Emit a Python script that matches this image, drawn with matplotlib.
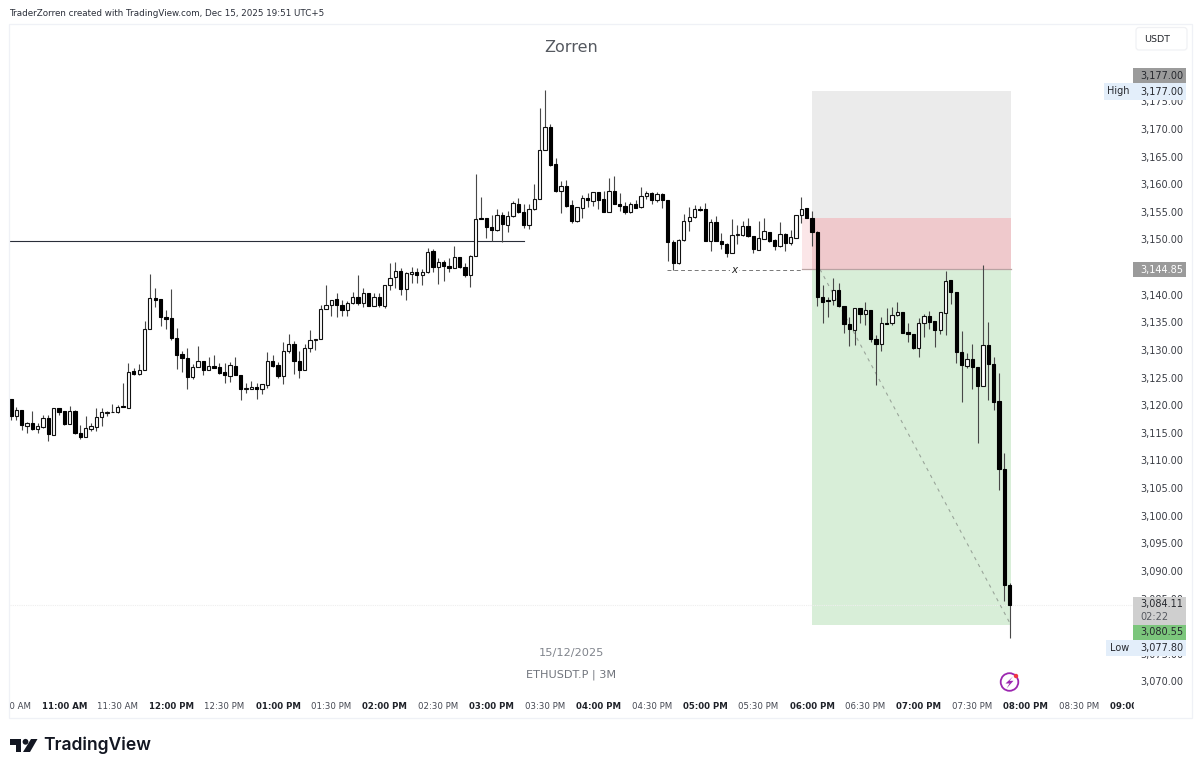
import matplotlib
matplotlib.use("Agg")
import matplotlib.pyplot as plt
from matplotlib.patches import Rectangle, Circle, FancyBboxPatch, Polygon
from matplotlib.transforms import Bbox
import numpy as np

opens = [3121.19,3118.11,3119.14,3116.30,3116.84,3115.64,3116.00,3117.63,3114.67,3119.44,
3118.90,3116.60,3119.02,3114.91,3114.19,3115.64,3116.12,3117.81,3118.65,3118.71,
3118.71,3119.80,3119.50,3126.14,3125.59,3126.32,3133.80,3139.35,3139.17,3136.03,
3135.73,3132.17,3129.21,3128.55,3125.11,3126.86,3128.07,3126.38,3127.04,3126.86,
3125.95,3125.35,3127.16,3125.53,3122.94,3122.94,3123.24,3122.88,3123.72,3127.95,
3127.22,3125.35,3129.82,3131.08,3128.01,3126.32,3130.30,3131.87,3131.93,3137.48,
3138.14,3139.17,3138.14,3137.30,3138.45,3139.65,3138.57,3140.38,3138.02,3139.53,
3138.02,3141.76,3143.15,3144.30,3140.98,3143.75,3144.12,3143.51,3144.06,3147.86,
3145.08,3145.99,3145.14,3144.90,3146.83,3145.02,3143.57,3147.01,3153.89,3153.89,
3152.26,3151.72,3154.43,3152.68,3154.25,3156.49,3155.04,3152.56,3155.52,3157.27,
3166.26,3170.37,3163.61,3158.84,3159.63,3156.19,3153.29,3155.76,3157.58,3157.03,
3158.54,3157.27,3154.92,3158.84,3156.49,3156.07,3154.92,3156.37,3155.83,3157.82,
3158.48,3157.09,3158.24,3157.15,3149.61,3145.69,3149.91,3153.29,3154.13,3155.52,
3155.52,3149.79,3153.11,3149.79,3149.25,3147.50,3150.75,3150.75,3152.44,3150.69,
3148.10,3150.09,3151.36,3149.85,3148.82,3151.00,3149.31,3150.33,3154.43,3155.64,
3153.89,3151.36,3139.53,3138.99,3138.99,3140.86,3137.96,3134.70,3133.68,3137.66,
3136.45,3137.18,3131.99,3131.02,3134.88,3134.82,3136.33,3136.94,3133.19,3132.83,
3130.30,3134.83,3136.09,3135.19,3133.62,3136.64,3142.67,3140.50,3129.58,3127.16,
3128.37,3126.98,3123.42,3130.84,3127.46,3120.71,3108.39,3087.45]
highs = [3121.19,3119.74,3119.14,3117.03,3119.02,3116.72,3118.23,3118.23,3119.56,3119.56,
3119.02,3119.86,3119.14,3116.42,3118.05,3116.72,3119.44,3119.56,3119.02,3120.22,
3120.04,3124.08,3127.71,3126.68,3127.46,3135.31,3143.76,3141.16,3139.17,3137.24,
3140.98,3133.98,3129.76,3130.30,3127.46,3130.72,3128.07,3128.79,3129.09,3127.58,
3127.58,3127.83,3128.79,3125.53,3124.08,3124.45,3123.96,3123.78,3129.58,3129.09,
3127.83,3131.39,3132.83,3131.69,3129.82,3131.08,3133.62,3131.99,3138.14,3141.82,
3139.11,3140.26,3139.05,3138.87,3140.44,3143.51,3141.16,3140.38,3140.26,3140.38,
3141.76,3145.81,3145.99,3144.78,3144.18,3144.96,3144.78,3144.60,3148.40,3148.22,
3146.59,3146.29,3146.59,3148.88,3146.83,3145.68,3147.19,3161.86,3157.75,3153.89,
3154.43,3155.46,3154.92,3155.22,3156.91,3157.57,3156.36,3156.36,3159.99,3173.75,
3177.00,3170.85,3164.82,3160.59,3160.77,3157.15,3155.95,3158.06,3158.36,3158.66,
3158.54,3158.78,3161.07,3161.56,3158.36,3156.85,3156.85,3157.15,3159.57,3158.78,
3158.66,3158.54,3158.36,3157.15,3149.91,3150.03,3154.62,3155.82,3156.24,3156.12,
3156.55,3153.71,3154.25,3151.24,3149.31,3153.71,3152.62,3153.41,3153.83,3150.69,
3153.35,3153.83,3151.36,3150.03,3153.11,3151.12,3151.72,3154.43,3157.63,3155.64,
3155.22,3151.60,3141.76,3139.65,3143.09,3142.19,3137.96,3135.91,3137.66,3137.66,
3138.75,3137.18,3132.71,3135.91,3137.66,3137.84,3138.75,3136.94,3134.82,3132.83,
3135.73,3136.51,3137.06,3135.19,3136.82,3144.30,3142.67,3140.50,3133.50,3129.39,
3131.08,3126.98,3145.38,3135.01,3128.67,3125.77,3111.29,3087.90]
lows = [3117.33,3117.33,3115.52,3114.91,3115.52,3114.91,3115.82,3113.53,3114.67,3118.23,
3116.42,3116.60,3114.79,3113.83,3114.19,3115.34,3115.40,3116.30,3118.05,3118.71,
3118.65,3119.62,3119.50,3125.47,3125.53,3126.32,3133.80,3137.72,3134.40,3133.80,
3131.81,3126.62,3126.08,3122.88,3124.81,3126.86,3125.53,3126.38,3126.74,3125.65,
3124.08,3124.27,3125.47,3120.95,3122.27,3122.94,3121.13,3121.97,3123.06,3126.98,
3124.87,3123.84,3129.39,3125.65,3124.87,3126.32,3129.70,3130.00,3131.93,3137.48,
3136.15,3136.03,3136.21,3136.21,3138.26,3138.08,3137.84,3137.96,3137.96,3137.72,
3137.54,3140.86,3141.16,3139.95,3139.05,3142.18,3142.06,3141.76,3144.00,3144.18,
3141.94,3142.49,3144.18,3144.78,3144.90,3143.15,3141.46,3147.01,3153.77,3150.33,
3149.79,3151.60,3149.61,3151.42,3154.13,3154.86,3152.14,3151.84,3155.34,3157.27,
3166.26,3163.31,3158.66,3154.86,3155.95,3152.93,3153.23,3153.95,3155.95,3156.13,
3155.52,3154.92,3154.92,3156.43,3155.16,3154.56,3154.80,3155.64,3155.76,3157.33,
3156.43,3156.73,3155.76,3146.17,3144.48,3145.57,3149.79,3151.60,3153.83,3155.22,
3149.79,3147.98,3149.73,3148.28,3146.89,3147.50,3149.19,3150.63,3150.51,3147.62,
3148.10,3150.03,3149.61,3148.10,3148.58,3147.92,3149.00,3150.33,3152.93,3153.83,
3148.88,3137.96,3134.94,3135.91,3138.14,3137.84,3133.13,3130.78,3130.90,3134.94,
3134.52,3131.51,3123.66,3129.88,3134.64,3134.52,3136.15,3133.01,3131.51,3130.24,
3128.67,3132.41,3133.74,3130.48,3132.89,3132.71,3138.33,3127.58,3120.52,3126.68,
3122.94,3113.22,3123.42,3120.95,3119.14,3104.65,3084.60,3077.80]
closes = [3118.11,3119.14,3116.42,3116.84,3115.64,3116.24,3117.63,3114.73,3119.44,3118.84,
3116.60,3119.02,3114.91,3114.25,3115.82,3116.24,3117.81,3118.71,3118.77,3118.84,
3119.74,3119.62,3126.08,3125.59,3126.32,3133.80,3139.35,3139.11,3136.03,3135.67,
3132.17,3129.15,3128.55,3125.11,3126.86,3128.07,3126.38,3127.04,3126.74,3125.89,
3125.41,3127.22,3125.47,3123.00,3123.12,3123.24,3122.88,3123.78,3127.95,3127.10,
3125.29,3129.88,3131.02,3128.01,3126.32,3130.30,3131.81,3131.99,3137.48,3138.14,
3139.11,3138.14,3137.24,3138.45,3139.65,3138.57,3140.38,3138.02,3139.53,3138.14,
3141.76,3143.09,3144.24,3140.98,3143.87,3144.18,3143.63,3144.18,3147.80,3145.08,
3145.99,3145.20,3144.84,3146.77,3144.96,3143.51,3147.01,3153.77,3153.71,3152.26,
3151.72,3154.49,3152.74,3154.25,3156.55,3154.98,3152.56,3155.52,3157.39,3166.26,
3170.37,3163.49,3158.84,3159.63,3156.07,3153.35,3155.83,3157.58,3157.09,3158.54,
3157.09,3154.92,3158.84,3156.49,3156.01,3154.92,3156.43,3155.76,3157.88,3158.36,
3157.15,3158.24,3157.15,3149.61,3145.69,3149.91,3153.29,3154.13,3155.46,3155.34,
3149.79,3153.11,3149.79,3149.25,3147.50,3150.81,3150.93,3152.44,3150.69,3148.22,
3150.21,3151.48,3149.79,3148.82,3151.06,3149.43,3150.39,3154.43,3155.58,3153.95,
3151.36,3139.53,3138.75,3138.81,3140.80,3137.96,3134.70,3133.74,3137.66,3136.45,
3137.18,3131.99,3131.02,3134.82,3134.70,3136.39,3136.94,3133.13,3132.83,3130.30,
3134.83,3136.15,3135.13,3133.62,3136.82,3142.55,3140.44,3129.58,3127.22,3128.37,
3126.92,3123.48,3130.84,3127.46,3120.65,3108.39,3087.45,3083.90]

price_ticks = list(range(3070, 3180, 5))
time_labels = ["10:30 AM","11:00 AM","11:30 AM","12:00 PM","12:30 PM","01:00 PM","01:30 PM",
               "02:00 PM","02:30 PM","03:00 PM","03:30 PM","04:00 PM","04:30 PM","05:00 PM",
               "05:30 PM","06:00 PM","06:30 PM","07:00 PM","07:30 PM","08:00 PM","08:30 PM","09:00 PM"]
stop_top = 3176.9
stop_mid = 3153.9
entry = 3144.6
target = 3080.3
last_price = 3083.9
hline_level = 3149.81
sweep_level = 3144.4

W, H = 1200, 772
fig = plt.figure(figsize=(W/100, H/100), dpi=100, facecolor="white")
L, R, T, B = 10, 1134, 24, 693
ax = fig.add_axes([L/W, 1-B/H, (R-L)/W, (B-T)/H])

step = 5.34
x_of = lambda p: (p-11)/step
y_of = lambda p: 3170-(p-129)/5.524
ax.set_xlim(x_of(L), x_of(R))
ax.set_ylim(y_of(B), y_of(T))
for s in ax.spines.values():
    s.set_visible(False)

# position tool zones
ax.add_patch(Rectangle((150, stop_mid), 37.2, stop_top-stop_mid, fc="#ebebeb", ec="none", zorder=1))
ax.add_patch(Rectangle((150, entry), 37.2, stop_mid-entry, fc="#efc9cc", ec="none", zorder=1))
ax.add_patch(Rectangle((148.1, entry), 1.9, stop_mid-entry, fc="#fbe6e8", ec="none", zorder=1))
ax.add_patch(Rectangle((150, target), 37.2, entry-target, fc="#d8eed8", ec="none", zorder=1))
ax.plot([148.1, 187.2], [entry, entry], color="#b9a3a3", lw=0.9, zorder=1.5)
ax.plot([151.5, 187.2], [entry, target], color="#9aa59a", lw=0.8, ls=(0, (3, 4)), zorder=1.5)

# reference lines
ax.plot([x_of(L), x_of(524)], [hline_level]*2, color="#2a2e39", lw=0.8, zorder=2)
ax.plot([122.9, 148.3], [sweep_level]*2, color="#777777", lw=0.7, ls=(0, (4, 3)), zorder=2)
ax.text(135.5, sweep_level, "x", fontsize=7.5, style="italic", color="#222222",
        ha="center", va="center", zorder=3,
        bbox=dict(fc="white", ec="none", pad=0.8))
ax.plot([x_of(L), x_of(R)], [last_price]*2, color="#eeeeee", lw=0.8, ls=(0, (1, 1)), zorder=1.2)

# candles
idx = np.arange(len(opens))
o, h, l, c = map(np.array, (opens, highs, lows, closes))
ax.vlines(idx, l, h, color="#484848", lw=0.8, zorder=3)
up = c >= o
ax.bar(idx[up], np.maximum(c-o, 0.1)[up], bottom=o[up], width=0.62, facecolor="white",
       edgecolor="#111111", linewidth=0.8, zorder=4)
ax.bar(idx[~up], np.maximum(o-c, 0.15)[~up], bottom=c[~up], width=0.62, facecolor="black",
       edgecolor="black", linewidth=0.8, zorder=4)

# axes ticks
ax.yaxis.tick_right()
ax.set_yticks(price_ticks)
ax.set_yticklabels([f"{v:,.2f}" for v in price_ticks], fontsize=7, color="#3a3d45")
ax.tick_params(axis="y", length=0, pad=4.3)
tpos = [i*10 for i in range(len(time_labels))]
ax.set_xticks(tpos)
ax.set_xticklabels(time_labels, fontsize=6.2)
ax.tick_params(axis="x", length=0, pad=6.8)
clip = Bbox.from_extents(L, 0, R, H)
for t, lab_s in zip(ax.get_xticklabels(), time_labels):
    hourly = lab_s[3:5] == "00"
    t.set_fontweight("bold" if hourly else "normal")
    t.set_color("#1f2229" if hourly else "#454852")
    t.set_clip_box(clip)
    t.set_clip_on(True)

# overlay in pixel coordinates
ui = fig.add_axes([0, 0, 1, 1], facecolor="none")
ui.set_xlim(0, W)
ui.set_ylim(H, 0)
ui.axis("off")
ui.add_patch(Rectangle((9, 24), 1183, 694, fc="none", ec="#eff1f6", lw=0.9))

def box(x0, y0, x1, y1, col):
    ui.add_patch(Rectangle((x0, y0), x1-x0, y1-y0, fc=col, ec="none", zorder=5))

def lab(x, y, s, col="#26282e", ha="left", fs=7, **kw):
    ui.text(x, y, s, color=col, fontsize=fs, ha=ha, va="center", zorder=6, **kw)

ui.text(9, 13, "TraderZorren created with TradingView.com, Dec 15, 2025 19:51 UTC+5",
        fontsize=6.3, color="#2a2e39", va="center")
ui.text(571, 47.5, "Zorren", fontsize=11.5, color="#555960", ha="center", va="center")
ui.text(571, 653, "15/12/2025", fontsize=8.2, color="#80848c", ha="center", va="center")
ui.text(571, 674.5, "ETHUSDT.P | 3M", fontsize=8.1, color="#70747c", ha="center", va="center")

ui.add_patch(FancyBboxPatch((1136, 27.5), 51, 22.5, boxstyle="round,pad=0,rounding_size=3",
                            fc="white", ec="#f0f1f4", lw=0.9))
lab(1157, 39, "USDT", ha="center", fs=6.8)

box(1133, 68, 1186, 83, "#9b9b9b"); lab(1140, 75.5, "3,177.00")
box(1104, 83, 1186, 100, "#e3eefa"); lab(1107, 91.5, "High"); lab(1140, 91.5, "3,177.00")
box(1133, 262, 1186, 277, "#9a9a9a"); lab(1140, 269.5, "3,144.85", col="white")
box(1133, 597, 1186, 625, "#cfcfcf"); lab(1140, 604, "3,084.11"); lab(1140, 617, "02:22", col="#55585f")
box(1133, 625, 1186, 640, "#7cc67c"); lab(1140, 632, "3,080.55")
box(1106, 640, 1186, 656, "#e3eefa"); lab(1110, 648, "Low"); lab(1140, 648, "3,077.80")

# flash icon
ui.add_patch(Circle((1009.5, 682), 8.8, fc="white", ec="#9c27b0", lw=1.3, zorder=6))
ui.add_patch(Polygon([(1013, 676.5), (1005.5, 683.5), (1009.5, 683.5), (1006.5, 688.5), (1013.5, 680.8), (1009.5, 680.8)],
                     closed=True, fc="#9c27b0", ec="none", zorder=7))
ui.add_patch(Circle((1016, 676), 2.2, fc="#f23645", ec="none", zorder=7))

# TradingView logo
ui.add_patch(Polygon([(10, 739), (21, 739), (21, 752), (16, 752), (16, 745), (10, 745)],
                     closed=True, fc="#131722", ec="none"))
ui.add_patch(Circle((25.5, 741.8), 2.9, fc="#131722", ec="none"))
ui.add_patch(Polygon([(31, 739), (37.5, 739), (30, 752), (23, 752)], closed=True, fc="#131722", ec="none"))
ui.text(43, 745.5, "TradingView", fontsize=12.6, fontfamily="Inter", fontweight="semibold",
        color="#131722", va="center")

fig.savefig("out.png", dpi=100)
